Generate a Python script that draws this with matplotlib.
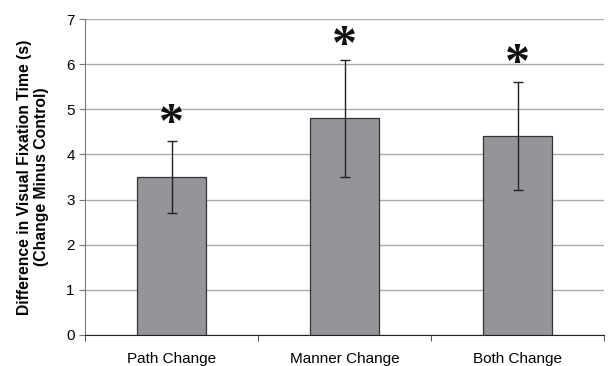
import matplotlib
matplotlib.use("Agg")
import matplotlib.pyplot as plt
import numpy as np

categories = ["Path Change", "Manner Change", "Both Change"]
means = [3.5, 4.8, 4.4]
errors = [0.8, 1.3, 1.2]
star_y = [4.98, 6.69, 6.3]

plt.rcParams['font.family'] = ['Liberation Sans', 'DejaVu Sans']

fig = plt.figure(figsize=(6.12, 3.66), dpi=100)
ax = fig.add_axes([0.139, 0.085, 0.848, 0.863])

x = np.arange(len(categories))
ax.bar(x, means, width=0.4, color='#939598', edgecolor='#333333', linewidth=0.9, zorder=3)
ax.errorbar(x, means, yerr=errors, fmt='none', ecolor='#222222', elinewidth=1.0,
            capsize=3.5, capthick=1.0, zorder=4)
for xi, sy in zip(x, star_y):
    ax.text(xi, sy - 0.32, "*", fontsize=36, family='Liberation Serif', fontweight='bold',
            ha='center', va='center', color='#111111', zorder=5)

ax.set_xlim(-0.5, 2.5)
ax.set_ylim(0, 7)
ax.set_yticks(range(8))
ax.set_xticks(x)
ax.set_xticklabels(categories, fontsize=11)
ax.set_xticks([-0.5, 0.5, 1.5, 2.5], minor=True)
ax.tick_params(axis='x', which='major', length=0, pad=12)
ax.tick_params(axis='x', which='minor', length=4, color='#333333')
ax.tick_params(axis='y', labelsize=11, length=4, color='#777777')
ax.yaxis.grid(True, color='#aaaaaa', linewidth=1.0, zorder=0)
ax.set_axisbelow(True)
for s in ['top', 'right']:
    ax.spines[s].set_visible(False)
ax.spines['left'].set_color('#777777')
ax.spines['bottom'].set_color('#222222')
ax.set_ylabel("Difference in Visual Fixation Time (s)\n(Change Minus Control)",
              fontsize=11.3, fontweight='bold', labelpad=12)

fig.savefig("out.png", dpi=100)
